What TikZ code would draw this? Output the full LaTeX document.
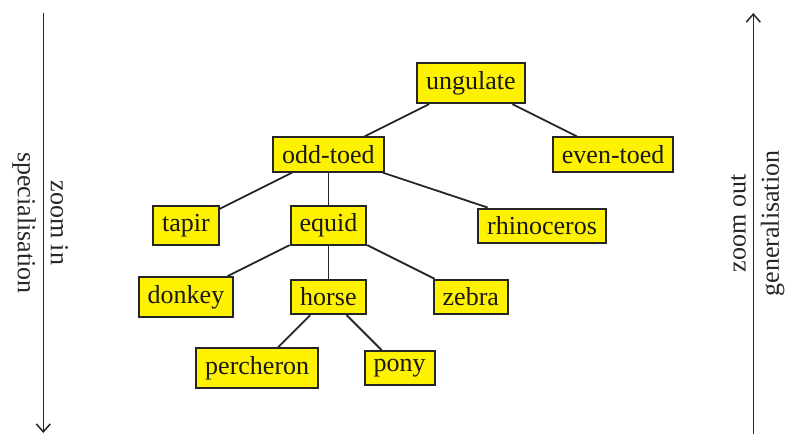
\documentclass[tikz,border=0pt]{standalone}
\usepackage{fontspec}
\setmainfont{Liberation Serif}
\usetikzlibrary{arrows.meta}
\begin{document}
\begin{tikzpicture}[x=0.5pt,y=-0.5pt,
  box/.style={draw=black!85, fill=yellow, line width=1pt, inner xsep=4.5pt, inner ysep=4pt, font=\fontsize{13}{15}\selectfont, text=black!90},
  edge/.style={draw=black!85, line width=0.9pt},
  axis/.style={draw=black!85, line width=0.75pt, -{Straight Barb[length=4pt,width=7pt]}},
  lab/.style={font=\fontsize{13}{15}\selectfont, sloped, text=black!85, midway}]
\useasboundingbox (0,0) rectangle (787,434);
\def\cx#1{186+71.2*#1}
\def\ry#1{83.3+71.2*#1}
\node[box] (ung) at ({\cx{4}},{\ry{0}}) {ungulate};
\node[box] (odd) at ({\cx{2}},{\ry{1}}) {odd-toed};
\node[box] (even) at ({\cx{6}},{\ry{1}}) {even-toed};
\node[box] (tapir) at ({\cx{0}},{\ry{2}}) {tapir};
\node[box] (equid) at ({\cx{2}},{\ry{2}}) {equid};
\node[box] (rhino) at ({\cx{5}},{\ry{2}}) {rhinoceros};
\node[box] (donkey) at ({\cx{0}},{\ry{3}}) {donkey};
\node[box] (horse) at ({\cx{2}},{\ry{3}}) {horse};
\node[box] (zebra) at ({\cx{4}},{\ry{3}}) {zebra};
\node[box] (perch) at ({\cx{1}},{\ry{4}}) {percheron};
\node[box] (pony) at ({\cx{3}},{\ry{4}}) {pony};
\draw[edge] (ung) -- (odd);
\draw[edge] (ung) -- (even);
\draw[edge] (odd) -- (tapir);
\draw[edge] (odd) -- (equid);
\draw[edge] (odd) -- (rhino);
\draw[edge] (equid) -- (donkey);
\draw[edge] (equid) -- (horse);
\draw[edge] (equid) -- (zebra);
\draw[edge] (horse) -- (perch);
\draw[edge] (horse) -- (pony);
\coordinate (lt) at (43.3,12.7);
\coordinate (lb) at (43.3,433);
\coordinate (rb) at (753.3,434);
\coordinate (rt) at (753.3,13);
\draw[axis] (lt) -- (lb) node[lab, above] {zoom in} node[lab, below] {specialisation};
\draw[axis] (rb) -- (rt) node[lab, above] {zoom out} node[lab, below] {generalisation};
\end{tikzpicture}
\end{document}
